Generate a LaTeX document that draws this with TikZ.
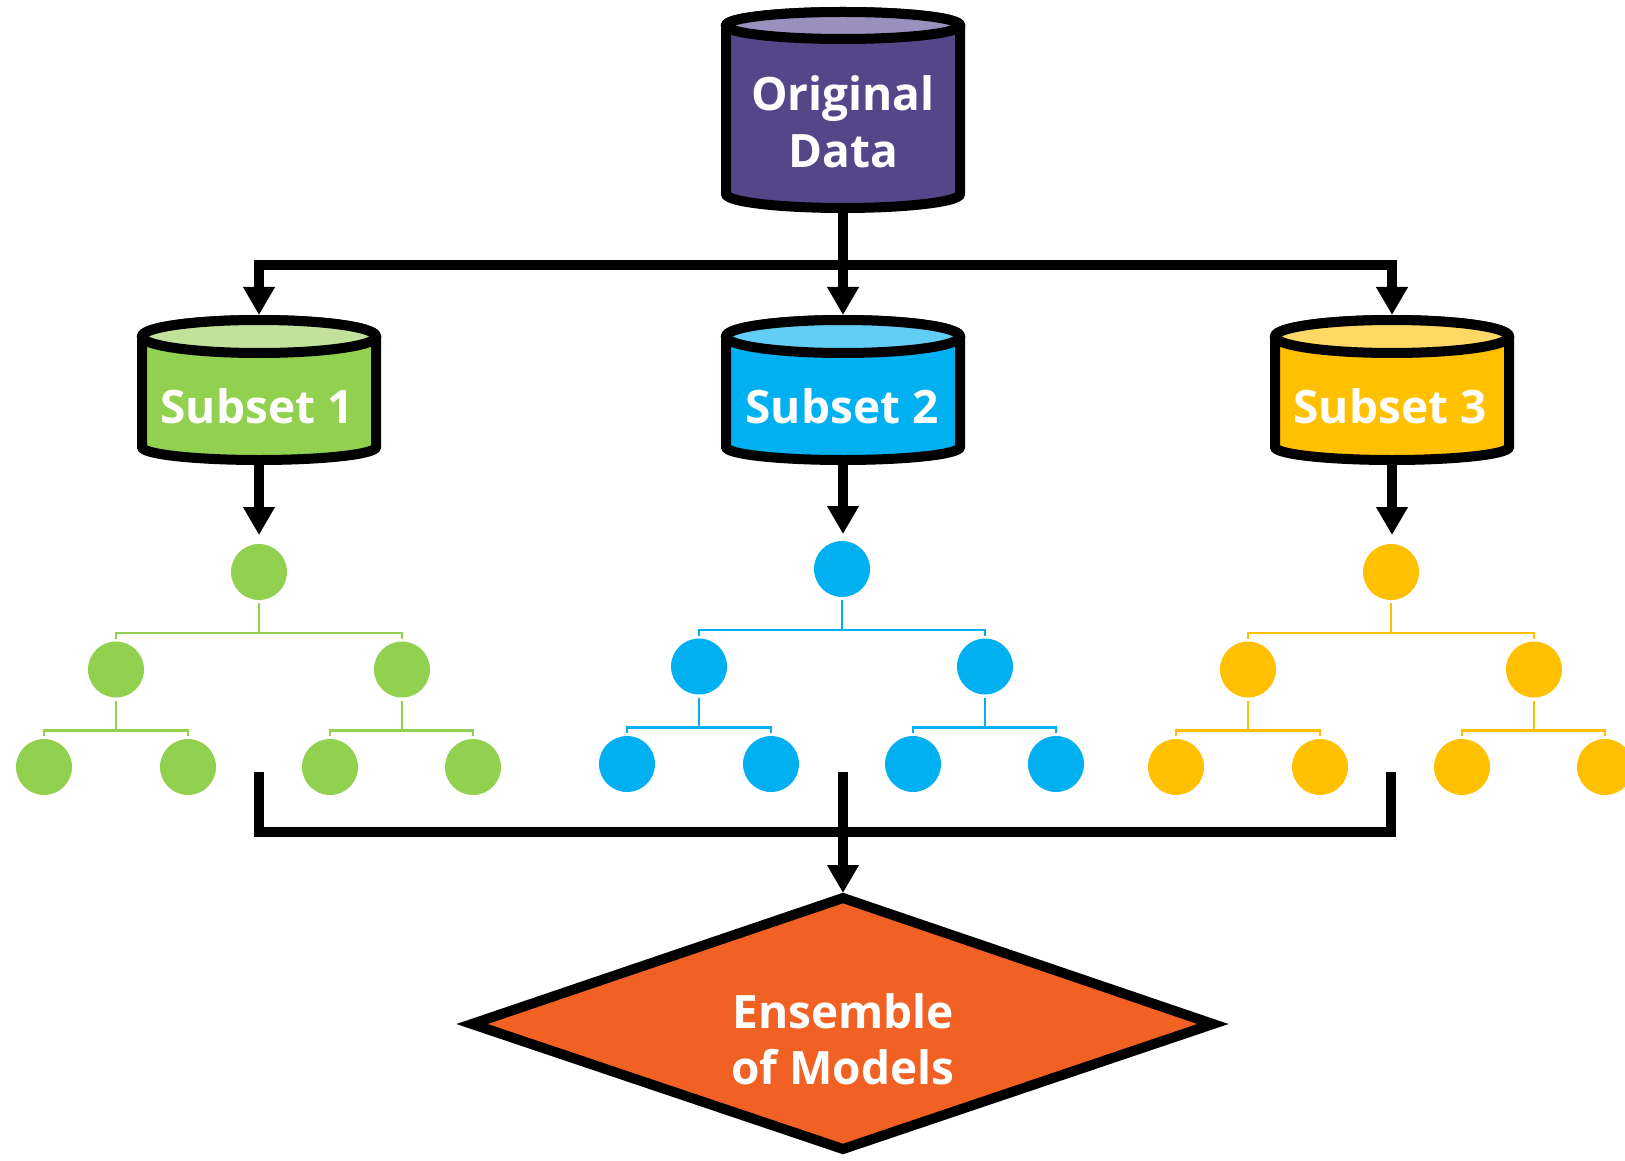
\documentclass[tikz,border=0pt]{standalone}
\usepackage{fontspec}
\setmainfont{Open Sans}
\usetikzlibrary{arrows.meta,shapes.geometric}
\definecolor{odbody}{HTML}{55468A}
\definecolor{odtop}{HTML}{9A90BE}
\definecolor{gbody}{HTML}{92D050}
\definecolor{gtop}{HTML}{C2E29B}
\definecolor{bbody}{HTML}{00B0F0}
\definecolor{btop}{HTML}{62CEF6}
\definecolor{ybody}{HTML}{FFC000}
\definecolor{ytop}{HTML}{FFD966}
\definecolor{ensc}{HTML}{F26124}
\tikzset{
  bigline/.style={line width=5pt, draw=black},
  arr/.style={bigline, -{Triangle[width=15pt,length=14pt]}},
  cylbox/.style={rectangle, inner sep=0pt, outer sep=0pt},
  lbl/.style={text=white, font=\fontsize{23}{28.75}\bfseries\selectfont, align=center, inner sep=0pt},
  leaf/.style={circle, fill=#1, minimum size=28pt, inner sep=0pt, outer sep=0pt},
  tline/.style={draw=#1, line width=1.25pt},
}
% #1 name, #2 cx, #3 top-ellipse y, #4 top ry, #5 bottom-ellipse y, #6 bottom ry, #7 body, #8 top colour
\newcommand{\drawcyl}[8]{%
  \path[draw=black, line width=5pt, fill=#7]
    (#2-117,-#3) -- (#2-117,-#5)
    arc[start angle=180, end angle=360, x radius=58.5pt, y radius=#6*0.5pt]
    -- (#2+117,-#3)
    arc[start angle=0, end angle=180, x radius=58.5pt, y radius=#4*0.5pt] -- cycle;
  \path[draw=black, line width=5pt, fill=#8] (#2,-#3) ellipse[x radius=58.5pt, y radius=#4*0.5pt];
  \node[cylbox, minimum width=122pt, minimum height={((#5+#6)-(#3-#4)+10)*0.5pt}]
    (#1) at ({#2},{-(#3-#4+#5+#6)/2}) {};
}
% #1 prefix, #2 root x, #3 root y, #4 colour
\newcommand{\mytree}[4]{%
  \node[leaf=#4] (#1r) at (#2,-#3) {};
  \node[leaf=#4] (#1a) at (#2-143,-#3-97.5) {};
  \node[leaf=#4] (#1b) at (#2+143,-#3-97.5) {};
  \node[leaf=#4] (#1aa) at (#2-215,-#3-195) {};
  \node[leaf=#4] (#1ab) at (#2-71,-#3-195) {};
  \node[leaf=#4] (#1ba) at (#2+71,-#3-195) {};
  \node[leaf=#4] (#1bb) at (#2+214,-#3-195) {};
  \draw[tline=#4] ([yshift=-1.5pt]#1r.south) -- ++(0,-30) -| ([yshift=1.5pt]#1a.north);
  \draw[tline=#4] ([yshift=-1.5pt]#1r.south) ++(0,-30) -| ([yshift=1.5pt]#1b.north);
  \draw[tline=#4] ([yshift=-1.5pt]#1a.south) -- ++(0,-30) -| ([yshift=1.5pt]#1aa.north);
  \draw[tline=#4] ([yshift=-1.5pt]#1a.south) ++(0,-30) -| ([yshift=1.5pt]#1ab.north);
  \draw[tline=#4] ([yshift=-1.5pt]#1b.south) -- ++(0,-30) -| ([yshift=1.5pt]#1ba.north);
  \draw[tline=#4] ([yshift=-1.5pt]#1b.south) ++(0,-30) -| ([yshift=1.5pt]#1bb.north);
}
\begin{document}
\begin{tikzpicture}[x=0.5pt, y=0.5pt]
\useasboundingbox[fill=white] (0,0) rectangle (1625,-1160);

% cylinders
\drawcyl{orig}{843}{25.5}{13.5}{194}{14}{odbody}{odtop}
\drawcyl{s1}{259}{336.5}{16.5}{447}{13}{gbody}{gtop}
\drawcyl{s2}{843}{336.5}{16.5}{447}{13}{bbody}{btop}
\drawcyl{s3}{1392}{336.5}{16.5}{447}{13}{ybody}{ytop}

\node[lbl, anchor=base] (odtxt) at (843,-168) {Original\\Data};
\node[lbl, anchor=base] (s1txt) at (257,-423) {Subset 1};
\node[lbl, anchor=base] (s2txt) at (842,-423) {Subset 2};
\node[lbl, anchor=base] (s3txt) at (1390,-423) {Subset 3};

% trees
\mytree{g}{259}{572}{gbody}
\mytree{b}{842}{569}{bbody}
\mytree{y}{1391}{572}{ybody}

% diamond
\path[draw=black, line width=5pt, fill=ensc, miter limit=10]
  (843,-898) -- (1213,-1024) -- (843,-1149) -- (472,-1024) -- cycle;
\coordinate (enstop) at (843,-893);
\node[lbl, font=\fontsize{23}{28}\bfseries\selectfont, anchor=base]
  (ens) at (843,-1084) {Ensemble\\of Models};

% top connectors
\coordinate (hb) at (843,-265);
\draw[arr] (orig.south) -- (s2.north);
\draw[arr] (hb) -| (s1.north);
\draw[arr] (hb) -| (s3.north);

% subsets to trees
\draw[arr, shorten >=4.5pt] (s1.south) -- (s1.south |- gr.north);
\draw[arr, shorten >=3.5pt] (s2.south) -- (s2.south |- br.north);
\draw[arr, shorten >=4.5pt] (s3.south) -- (s3.south |- yr.north);

% merge
\coordinate (m1) at (259,-772);
\coordinate (m2) at (843,-772);
\coordinate (m3) at (1391,-772);
\coordinate (mh) at (843,-832);
\draw[bigline] (m1) |- (mh) -| (m3);
\draw[arr] (m2) -- (enstop);
\end{tikzpicture}
\end{document}
